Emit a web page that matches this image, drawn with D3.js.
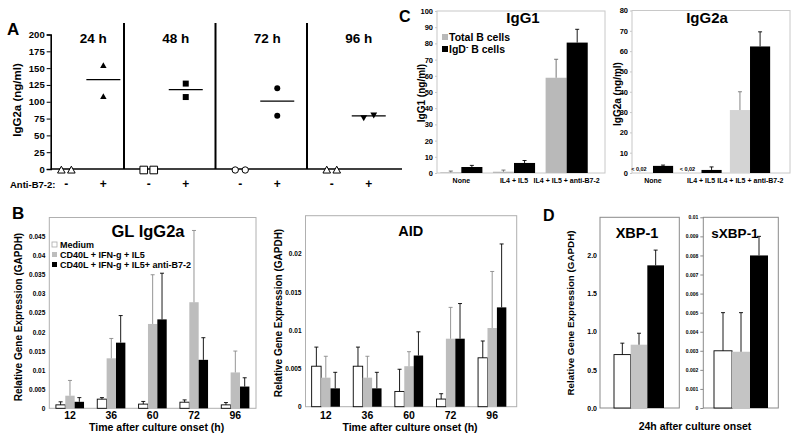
<!DOCTYPE html>
<html><head><meta charset="utf-8">
<script src="https://cdn.jsdelivr.net/npm/d3@7/dist/d3.min.js"></script>
<style>
body{margin:0;background:#fff;}
svg{display:block;}
svg text{font-family:"Liberation Sans",Arial,Helvetica,sans-serif;font-weight:bold;fill:#000;}
</style></head>
<body><svg id="fig" width="800" height="441"></svg>
<script>
// ===== Panel A: IgG2a secretion =====
const aTimes = ["24 h","48 h","72 h","96 h"];
const aTicks = [0,25,50,75,100,125,150,175,200];
const aTreatLabels = ["-","+"];
const aMinusValues = [[0,0],[0,0],[0,0],[0,0]];
const aPlusValues = [[154,108],[127,107],[120,79],[76,80]];
const aMeans = [133,118,101,79];
const aMinusShapes = ["triangle","square","circle","triangle"];
const aPlusShapes = ["triangle","square","circle","triangleDown"];

// ===== Panel B: GL IgG2a and AID =====
const bTimes = ["12","36","60","72","96"];
const bSeriesNames = ["Medium","CD40L + IFN-g + IL5","CD40L + IFN-g + IL5+ anti-B7-2"];
const glTicks = [0,0.005,0.01,0.015,0.02,0.025,0.03,0.035,0.04,0.045];
const glMedium = [0.0009,0.0024,0.0011,0.0016,0.0009];
const glMediumSD = [0.0008,0.0004,0.0007,0.0006,0.0006];
const glCD40 = [0.0033,0.0131,0.0221,0.0278,0.0094];
const glCD40SD = [0.0040,0.0052,0.0129,0.0188,0.0056];
const glAnti = [0.0017,0.0172,0.0233,0.0127,0.0057];
const glAntiSD = [0.0011,0.0071,0.0121,0.0058,0.0023];
const aidTicks = [0,0.005,0.01,0.015,0.02];
const aidMedium = [0.0053,0.0053,0.0020,0.0010,0.0064];
const aidMediumSD = [0.0025,0.0025,0.0029,0.0007,0.0022];
const aidCD40 = [0.0038,0.0038,0.0053,0.0089,0.0103];
const aidCD40SD = [0.0028,0.0028,0.0019,0.0041,0.0074];
const aidAnti = [0.0024,0.0024,0.0067,0.0089,0.0130];
const aidAntiSD = [0.0021,0.0021,0.0031,0.0046,0.0083];

// ===== Panel C: IgG1 and IgG2a =====
const cCats = ["None","IL4 + IL5","IL4 + IL5 + anti-B7-2"];
const cSeriesNames = ["Total B cells","IgD"];
const igg1Ticks = [0,10,20,30,40,50,60,70,80,90,100];
const igg1Total = [0.4,0.8,58.8];
const igg1TotalSD = [0.8,1.0,11.4];
const igg1IgDneg = [3.7,6.2,80.5];
const igg1IgDnegSD = [1.0,1.5,8.2];
const igg2aTicks = [0,10,20,30,40,50,60,70,80];
const igg2aTotal = [0,0,31];
const igg2aTotalSD = [0,0,9];
const igg2aNotes = ["< 0,02","< 0,02",""];
const igg2aIgDneg = [3.5,1.5,62.3];
const igg2aIgDnegSD = [0.4,1.5,7.2];

// ===== Panel D: XBP-1 / sXBP-1 =====
const dCats = ["24h"];
const xbpTicks = [0,0.5,1.0,1.5,2.0];
const xbpValues = [[0.70],[0.83],[1.87]];
const xbpSD = [[0.15],[0.15],[0.20]];
const sxbpTicks = [0,0.001,0.002,0.003,0.004,0.005,0.006,0.007,0.008,0.009,0.01];
const sxbpValues = [[0.0030],[0.00295],[0.0080]];
const sxbpSD = [[0.0020],[0.00205],[0.0010]];

// ---------------------------------------------------------------
const svg = d3.select("#fig");

function text(g, x, y, s, size, anchor, rotate) {
  const t = g.append("text").attr("font-size", size).attr("text-anchor", anchor || "middle").text(s);
  if (rotate) t.attr("transform", `translate(${x},${y}) rotate(-90)`);
  else t.attr("x", x).attr("y", y);
  return t;
}

// ---------- Panel A ----------
(function(){
  const g = svg.append("g");
  const axisX = 50.7, endX = 402;
  const y = d3.scaleLinear().domain([0,200]).range([169,34.5]);
  const x = d3.scaleBand().domain(aTimes).range([32.5, 398.5]);
  const ax = g.append("g").attr("transform",`translate(${axisX},0)`)
    .call(d3.axisLeft(y).tickValues(aTicks).tickSize(4).tickPadding(2));
  ax.select(".domain").attr("stroke","#000").attr("stroke-width",1.6);
  ax.selectAll(".tick line").attr("stroke","#000").attr("stroke-width",1);
  ax.selectAll(".tick text").attr("font-size",9.5).attr("font-family",null).attr("fill","#000");
  g.append("line").attr("x1",axisX).attr("x2",endX).attr("y1",y(0)).attr("y2",y(0))
    .attr("stroke","#000").attr("stroke-width",1.6);
  aTimes.slice(1).forEach(t => {
    g.append("line").attr("x1",x(t)).attr("x2",x(t)).attr("y1",23).attr("y2",y(0))
      .attr("stroke","#000").attr("stroke-width",2);
  });
  function path(shape, r) {
    if (shape === "circle") return `M${-r},0a${r},${r} 0 1,0 ${2*r},0a${r},${r} 0 1,0 ${-2*r},0Z`;
    if (shape === "square") return `M${-r},${-r}h${2*r}v${2*r}h${-2*r}Z`;
    if (shape === "triangle") return `M0,${-r}L${r},${r*0.8}L${-r},${r*0.8}Z`;
    return `M0,${r}L${r},${-r*0.8}L${-r},${-r*0.8}Z`;
  }
  const openR = {triangle:3.8, square:3.8, circle:3.2, triangleDown:3.8};
  const fillR = {triangle:3.2, square:3, circle:3, triangleDown:3.4};
  function place(vals, cx) {
    const close = Math.abs(y(vals[0]) - y(vals[1])) < 7;
    return vals.map((v,i) => ({v, x: close ? cx + (i === 0 ? -5 : 5) : cx}));
  }
  aTimes.forEach((t,i) => {
    const vc = (Math.max(x(t), axisX) + x(t) + x.bandwidth()) / 2;
    const mx = vc - 21, px = vc + 16;
    text(g, vc + 6, 43, t, 13.5);
    text(g, mx, 188, aTreatLabels[0], 12);
    text(g, px, 188, aTreatLabels[1], 12);
    place(aMinusValues[i], mx).forEach(d => {
      g.append("path").attr("d", path(aMinusShapes[i], openR[aMinusShapes[i]]))
        .attr("transform",`translate(${d.x},${y(d.v)+1})`)
        .attr("fill","#fff").attr("stroke","#000").attr("stroke-width",1);
    });
    place(aPlusValues[i], px).forEach(d => {
      g.append("path").attr("d", path(aPlusShapes[i], fillR[aPlusShapes[i]]))
        .attr("transform",`translate(${d.x},${y(d.v)})`).attr("fill","#000");
    });
    g.append("line").attr("x1",px-17).attr("x2",px+17).attr("y1",y(aMeans[i])).attr("y2",y(aMeans[i]))
      .attr("stroke","#000").attr("stroke-width",1.3);
  });
  text(g, 10, 187.5, "Anti-B7-2:", 9.5, "start");
  text(g, 21, 100, "IgG2a (ng/ml)", 11.5, "middle", true);
  text(g, 7, 35, "A", 17, "start");
})();

// ---------- generic bar chart ----------
function barChart(o) {
  const g = svg.append("g");
  const y = d3.scaleLinear().domain([0, o.max]).range([o.bottom, o.top]);
  const x = d3.scaleBand().domain(o.cats).range(o.xr).paddingInner(o.pi).paddingOuter(o.po);
  const xs = d3.scaleBand().domain(d3.range(o.series.length)).range([0, x.bandwidth()]);
  g.append("rect").attr("x",o.left).attr("y",o.top).attr("width",o.right-o.left).attr("height",o.bottom-o.top)
    .attr("fill","none").attr("stroke",o.frame).attr("stroke-width",1);
  const ax = g.append("g").attr("transform",`translate(${o.left},0)`)
    .call(d3.axisLeft(y).tickValues(o.ticks).tickFormat(o.fmt).tickSize(o.tickSize).tickPadding(o.tickPad));
  ax.select(".domain").remove();
  ax.selectAll(".tick line").attr("stroke",o.frame);
  ax.selectAll(".tick text").attr("font-size",o.tickFont).attr("font-family",null).attr("fill",o.tickColor || "#000");
  o.series.forEach((vals, si) => {
    const data = o.cats.map((c,i) => ({c, v: vals[i], e: o.sd[si][i]}));
    g.append("g").selectAll("rect").data(data).join("rect")
      .attr("x", d => x(d.c) + xs(si)).attr("y", d => y(d.v))
      .attr("width", xs.bandwidth()).attr("height", d => y(0) - y(d.v))
      .attr("fill", o.colors[si]).attr("stroke", o.strokes[si]).attr("stroke-width", 0.9);
    data.filter(d => d.e > 0).forEach(d => {
      const cx = x(d.c) + xs(si) + xs.bandwidth()/2;
      g.append("line").attr("x1",cx).attr("x2",cx).attr("y1",y(d.v)).attr("y2",y(d.v+d.e))
        .attr("stroke",o.errColors[si]).attr("stroke-width",0.9);
      g.append("line").attr("x1",cx-2).attr("x2",cx+2).attr("y1",y(d.v+d.e)).attr("y2",y(d.v+d.e))
        .attr("stroke",o.errColors[si]).attr("stroke-width",0.9);
    });
  });
  if (o.catFont) {
    const labels = o.cats.map(c => text(g, x(c) + x.bandwidth()/2, o.catY, c, o.catFont));
    // nudge neighbouring labels apart if they collide
    for (let k = 0; k < 4; k++) {
      for (let i = 1; i < labels.length; i++) {
        const a = labels[i-1].node().getBBox(), b = labels[i].node().getBBox();
        const overlap = a.x + a.width + 2 - b.x;
        if (overlap > 0) {
          labels[i-1].attr("x", +labels[i-1].attr("x") - overlap/2);
          labels[i].attr("x", +labels[i].attr("x") + overlap/2);
        }
      }
    }
  }
  text(g, o.titleX, o.titleY, o.title, o.titleFont);
  return {g, x, xs, y};
}

// ---------- Panel B ----------
const bColors = ["#fff","#bdbdbd","#000"];
const bStrokes = ["#000","none","none"];
const bErr = ["#000","#8a8a8a","#000"];
const fmtPlain = d => String(d);
barChart({
  left:49.3, right:256, top:217.5, bottom:408.3, max:0.05, xr:[49.3,256], pi:0.32, po:0.16,
  cats:bTimes, series:[glMedium,glCD40,glAnti], sd:[glMediumSD,glCD40SD,glAntiSD],
  colors:bColors, strokes:bStrokes, errColors:bErr, frame:"#b0b0b0",
  ticks:glTicks, fmt:fmtPlain, tickSize:0, tickPad:4, tickFont:6.5,
  catFont:10.5, catY:419, title:"GL IgG2a", titleX:148, titleY:237, titleFont:16.5
});
barChart({
  left:305.5, right:516.7, top:215.7, bottom:406.7, max:0.025, xr:[305,513], pi:0.32, po:0.16,
  cats:bTimes, series:[aidMedium,aidCD40,aidAnti], sd:[aidMediumSD,aidCD40SD,aidAntiSD],
  colors:bColors, strokes:bStrokes, errColors:bErr, frame:"#b0b0b0",
  ticks:aidTicks, fmt:fmtPlain, tickSize:0, tickPad:4, tickFont:6.5,
  catFont:10.5, catY:419, title:"AID", titleX:410.7, titleY:235.5, titleFont:14.5
});
(function(){
  const g = svg.append("g");
  const colors = ["#fff","#bdbdbd","#000"], strokes = ["#aaa","none","none"];
  const ys = [244.5,254.5,264.5];
  bSeriesNames.forEach((n,i) => {
    g.append("rect").attr("x",52).attr("y",ys[i]-2.5).attr("width",5).attr("height",5)
      .attr("fill",colors[i]).attr("stroke",strokes[i]).attr("stroke-width",0.8);
    text(g, 60, ys[i]+3.3, n, 9, "start");
  });
  text(g, 21.5, 317, "Relative Gene Expression (GAPDH)", 10, "middle", true);
  text(g, 282, 313, "Relative Gene Expression (GAPDH)", 10, "middle", true);
  text(g, 156.7, 431, "Time after culture onset (h)", 10.5);
  text(g, 410, 431, "Time after culture onset (h)", 10.5);
  text(g, 12, 219, "B", 17, "start");
})();

// ---------- Panel C ----------
barChart({
  left:437, right:605, top:11, bottom:173, max:100, xr:[435,593], pi:0.2, po:0.1,
  cats:cCats, series:[igg1Total,igg1IgDneg], sd:[igg1TotalSD,igg1IgDnegSD],
  colors:["#b9b9b9","#000"], strokes:["none","none"], errColors:["#666","#000"], frame:"#c8c8c8",
  ticks:igg1Ticks, fmt:fmtPlain, tickSize:2, tickPad:2, tickFont:7.5, tickColor:"#222",
  catFont:7, catY:183, title:"IgG1", titleX:523, titleY:23, titleFont:15
});
const c2 = barChart({
  left:632, right:790, top:10.5, bottom:173, max:80, xr:[628,775], pi:0.17, po:0.1,
  cats:cCats, series:[igg2aTotal,igg2aIgDneg], sd:[igg2aTotalSD,igg2aIgDnegSD],
  colors:["#d4d4d4","#000"], strokes:["none","none"], errColors:["#777","#000"], frame:"#c8c8c8",
  ticks:igg2aTicks, fmt:fmtPlain, tickSize:2, tickPad:2, tickFont:7.5, tickColor:"#222",
  catFont:7, catY:183, title:"IgG2a", titleX:707, titleY:23, titleFont:15
});
cCats.forEach((c,i) => {
  if (igg2aNotes[i]) text(c2.g, c2.x(c) + c2.xs(0) + c2.xs.bandwidth()/2 - 4, 171, igg2aNotes[i], 5.5).attr("fill","#333");
});
(function(){
  const g = svg.append("g");
  g.append("rect").attr("x",442).attr("y",34).attr("width",6).attr("height",6).attr("fill","#b9b9b9");
  g.append("rect").attr("x",442).attr("y",46).attr("width",6).attr("height",6).attr("fill","#000");
  text(g, 449, 41, cSeriesNames[0], 10.5, "start");
  const t = text(g, 449, 53, cSeriesNames[1], 10.5, "start");
  t.append("tspan").attr("font-size",7).attr("dy",-4).text("-");
  t.append("tspan").attr("dy",4).text(" B cells");
  text(g, 424.5, 93, "IgG1 (ng/ml)", 10, "middle", true);
  text(g, 621, 94, "IgG2a (ng/ml)", 10, "middle", true);
  text(g, 399, 22, "C", 16, "start");
})();

// ---------- Panel D ----------
const dColors = ["#fff","#c4c4c4","#000"], dStrokes = ["#000","none","none"], dErr = ["#000","#000","#000"];
barChart({
  left:600, right:679.3, top:217.3, bottom:408, max:2.5, xr:[614,664], pi:0, po:0,
  cats:dCats, series:xbpValues, sd:xbpSD, colors:dColors, strokes:dStrokes, errColors:dErr, frame:"#8a8a8a",
  ticks:xbpTicks, fmt:d3.format(".1f"), tickSize:0, tickPad:3, tickFont:7, tickColor:"#222",
  catFont:0, title:"XBP-1", titleX:637, titleY:237.5, titleFont:14.5
});
barChart({
  left:703.3, right:778.3, top:217.3, bottom:408, max:0.01, xr:[714,768], pi:0, po:0,
  cats:dCats, series:sxbpValues, sd:sxbpSD, colors:dColors, strokes:dStrokes, errColors:dErr, frame:"#8a8a8a",
  ticks:sxbpTicks, fmt:fmtPlain, tickSize:3, tickPad:2, tickFont:5, tickColor:"#222",
  catFont:0, title:"sXBP-1", titleX:735, titleY:237.5, titleFont:13.5
});
(function(){
  const g = svg.append("g");
  text(g, 574, 313, "Relative Gene Expression (GAPDH)", 9.8, "middle", true);
  text(g, 695, 430, "24h after culture onset", 10.5);
  text(g, 543, 221, "D", 16, "start");
})();
</script></body></html>
